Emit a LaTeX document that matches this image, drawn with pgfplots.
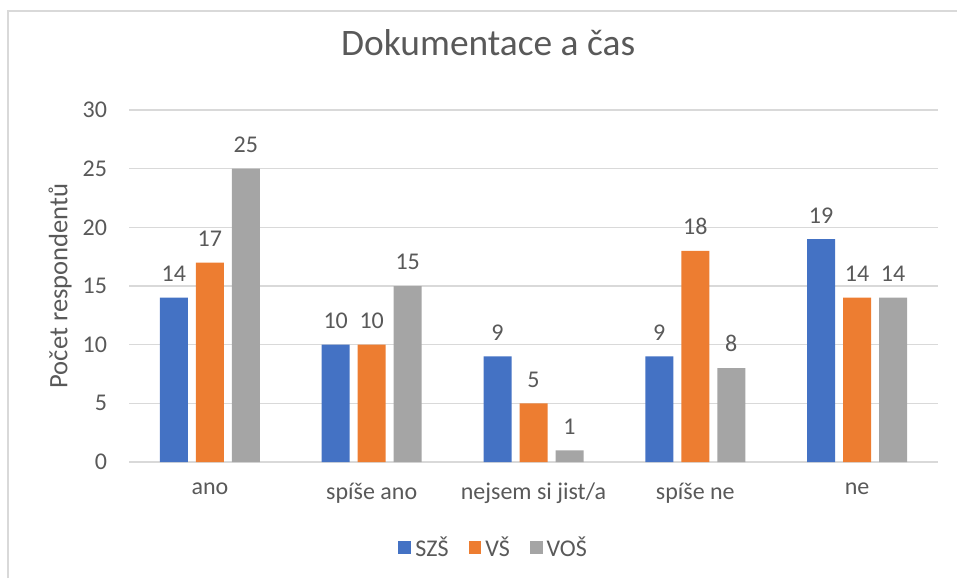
\documentclass[border=0pt]{standalone}
\usepackage{fontspec}
\setmainfont{Carlito}
\usepackage{pgfplots}
\pgfplotsset{compat=1.18}
\definecolor{cBlue}{HTML}{4472C4}
\definecolor{cOrange}{HTML}{ED7D31}
\definecolor{cGray}{HTML}{A5A5A5}
\definecolor{txt}{HTML}{595959}
\definecolor{gridc}{HTML}{D9D9D9}
\begin{document}
\begin{tikzpicture}
\path[use as bounding box] (0pt,0pt) rectangle (478.5pt,289pt);
\draw[gridc, line width=0.8pt] (4pt,0pt) -- (4pt,283.5pt) -- (478.5pt,283.5pt);
\begin{axis}[
  at={(64.5pt,58pt)}, anchor=south west,
  scale only axis, width=404.5pt, height=176pt,
  ybar=4pt, bar width=14pt,
  xmin=-0.5, xmax=4.5, ymin=0, ymax=30,
  ytick={0,5,...,30},
  xtick={0,1,2,3,4},
  xticklabels={ano,spíše ano,nejsem si jist/a,spíše ne,ne},
  major tick length=0pt,
  axis line style={draw=none},
  ymajorgrids, grid style={gridc, line width=0.8pt},
  tick label style={font=\fontsize{12}{14}\selectfont, text=txt},
  /pgf/number format/assume math mode=true,
  yticklabel style={xshift=-7.5pt},
  xticklabel style={yshift=-7pt},
  ylabel={Počet respondentů},
  ylabel style={at={(axis description cs:-0.0853,0.5)}, anchor=center, font=\fontsize{13.3}{16}\selectfont, text=txt},
  title={Dokumentace a čas},
  title style={at={(axis description cs:0.444,1.156)}, anchor=center, font=\fontsize{18.7}{22}\selectfont, text=txt},
  nodes near coords,
  every node near coord/.append style={font=\fontsize{12}{14}\selectfont, text=txt, yshift=4.5pt},
  legend columns=-1,
  legend style={at={(axis description cs:0.452,-0.244)}, anchor=center, draw=none,
    font=\fontsize{12}{14}\selectfont, text=txt,
    /tikz/every even column/.append style={column sep=8pt}},
  legend image code/.code={\fill[#1] (0pt,-3.2pt) rectangle (6.4pt,3.2pt);},
]
\addplot[fill=cBlue, draw=none] coordinates {(0,14) (1,10) (2,9) (3,9) (4,19)};
\addplot[fill=cOrange, draw=none] coordinates {(0,17) (1,10) (2,5) (3,18) (4,14)};
\addplot[fill=cGray, draw=none] coordinates {(0,25) (1,15) (2,1) (3,8) (4,14)};
\legend{SZŠ,VŠ,VOŠ}
\end{axis}
\end{tikzpicture}
\end{document}
